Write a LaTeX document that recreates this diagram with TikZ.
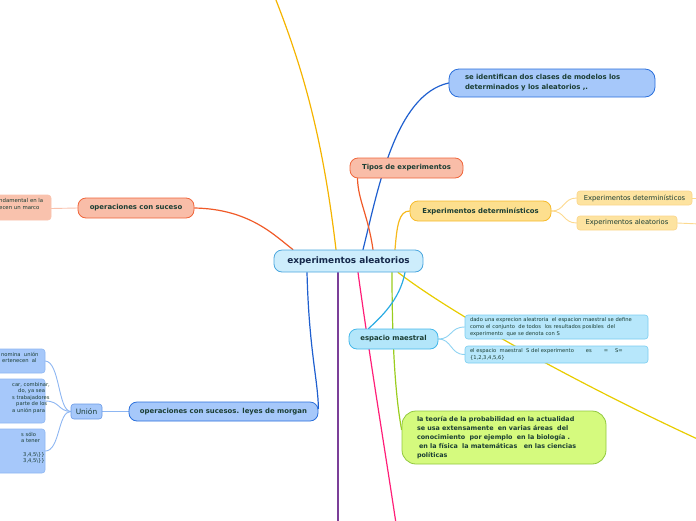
\documentclass[tikz,border=0pt]{standalone}
\usepackage{fontspec}
\setmainfont{DejaVu Sans}
\usetikzlibrary{backgrounds}
\definecolor{navytxt}{HTML}{15294B}
\definecolor{darktxt}{HTML}{1A3D33}
\definecolor{ctrfill}{HTML}{CDEDFC}
\definecolor{ctrdraw}{HTML}{4AA6DE}
\definecolor{bluefill}{HTML}{A6C8FA}
\definecolor{bluedraw}{HTML}{2A6FDB}
\definecolor{salfill}{HTML}{F9BDA8}
\definecolor{saldraw}{HTML}{F0653A}
\definecolor{yelfill}{HTML}{FDDF8E}
\definecolor{yeldraw}{HTML}{F6BA2A}
\definecolor{ylitefill}{HTML}{FDE3A0}
\definecolor{ylitedraw}{HTML}{FBD58A}
\definecolor{cyfill}{HTML}{B3E6FA}
\definecolor{cydraw}{HTML}{45B8EA}
\definecolor{cylitefill}{HTML}{B7E7FB}
\definecolor{cylitedraw}{HTML}{79CDF0}
\definecolor{grfill}{HTML}{D5FA7E}
\definecolor{grdraw}{HTML}{91C83E}
\definecolor{corange}{HTML}{F5B400}
\definecolor{cblue}{HTML}{1F5FCF}
\definecolor{cred}{HTML}{F05A28}
\definecolor{cyellow}{HTML}{F6B91C}
\definecolor{cpurple}{HTML}{7B3F98}
\definecolor{cpink}{HTML}{FF1E78}
\definecolor{cgreen}{HTML}{9ACD1E}
\definecolor{ccyan}{HTML}{29ABE2}
\definecolor{cyel2}{HTML}{E8CC00}
\definecolor{lorange}{HTML}{FCD98E}
\definecolor{lblue}{HTML}{8FD3F2}
\definecolor{lblue2}{HTML}{8DB6F2}
\definecolor{lsal}{HTML}{F9C2AD}
\begin{document}
\begin{tikzpicture}[x=1pt,y=-1pt,
  conn/.style={line width=1.2pt, line cap=round},
  subconn/.style={line width=0.9pt, line cap=round},
  pill/.style={draw, line width=0.8pt, rounded corners=8pt, inner sep=0pt, align=center},
  smallbox/.style={draw, line width=0.6pt, rounded corners=3pt, inner sep=0pt},
  boldlbl/.style={font=\fontsize{6.9}{10}\selectfont\bfseries, text=darktxt},
  tinylbl/.style={font=\fontsize{5.2}{6.6}\selectfont, text=darktxt}
]
\useasboundingbox (0,0) rectangle (696,520);
\clip (0,0) rectangle (696,520);

% free ends
\coordinate (topend) at (272,-10);
\coordinate (bot1) at (338,530);
\coordinate (bot2) at (397,530);
\coordinate (rightend) at (715,447);
\coordinate (ed1end) at (700,198);
\coordinate (ed2end) at (700,224);

% ---------- nodes ----------
\node[pill, fill=ctrfill, draw=ctrdraw, minimum width=149pt, minimum height=22pt,
      font=\fontsize{8.9}{11}\selectfont\bfseries, text=navytxt] (ctr) at (348.5,261) {experimentos aleatorios};

\node[pill, fill=bluefill, draw=bluedraw, minimum width=206pt, minimum height=28pt, rounded corners=10pt,
      boldlbl, align=left, text width=174pt, inner xsep=16pt] (tr) at (552,83)
      {se identifican dos clases de modelos los\\determinados y los aleatorios ,.};

\node[pill, fill=salfill, draw=saldraw, minimum width=113pt, minimum height=20pt, boldlbl] (tipos) at (406.5,168) {Tipos de experimentos};

\node[pill, fill=yelfill, draw=yeldraw, minimum width=141pt, minimum height=20pt, boldlbl] (expdet) at (480.5,211) {Experimentos determinísticos};

\node[smallbox, fill=ylitefill, draw=ylitedraw, minimum width=115pt, minimum height=14pt,
      font=\fontsize{6.8}{8}\selectfont, text=darktxt] (ed1) at (634.5,198) {Experimentos determinísticos};
\node[smallbox, fill=ylitefill, draw=ylitedraw, minimum width=100pt, minimum height=14pt,
      font=\fontsize{6.8}{8}\selectfont, text=darktxt] (ed2) at (627,223) {Experimentos aleatorios};

\node[pill, fill=salfill, draw=saldraw, minimum width=116pt, minimum height=20pt, boldlbl] (opsuc) at (136,208) {operaciones con suceso};

\node[smallbox, fill=lsal, draw=lsal, minimum width=91pt, minimum height=25pt] (opchild) at (5.5,207.5) {};
\node[font=\fontsize{5.4}{7.5}\selectfont, text=darktxt, align=left, anchor=north west, inner sep=0pt] (opchildt) at (-1,198) {ndamental en la\\ecen un marco};

\node[pill, fill=cyfill, draw=cydraw, minimum width=89pt, minimum height=20pt, boldlbl] (esp) at (393.5,339) {espacio maestral};

\node[smallbox, fill=cylitefill, draw=cylitedraw, minimum width=183pt, minimum height=24pt,
      tinylbl, align=left, text width=173pt, inner xsep=5pt] (em1) at (556.5,327)
      {\mbox{dado una exprecion aleatroria\ \ el espacion maestral se define}\\\mbox{como el conjunto\ \ de todos\ \ los resultados posibles\ \ del}\\experimento\ \ que se denota con S};
\node[smallbox, fill=cylitefill, draw=cylitedraw, minimum width=183pt, minimum height=17pt,
      tinylbl, align=left, text width=173pt, inner xsep=5pt] (em2) at (556.5,354.5)
      {\mbox{el espacio\ \ maestral\ \ S del experimento\hspace{12pt}es\hspace{12pt}=\hspace{7pt}S=}\\\{1,2,3,4,5,6\}};

\node[pill, fill=grfill, draw=grdraw, minimum width=204pt, minimum height=53pt, rounded corners=14pt,
      font=\fontsize{6.4}{9}\selectfont\bfseries, text=darktxt, align=left, text width=174pt, inner xsep=15pt] (teo) at (504,437.5)
      {\mbox{la teoría de la probabilidad en la actualidad}\\\mbox{se usa extensamente\ \ en varias áreas\ \ del}\\\mbox{conocimiento\ \ por ejemplo\ \ en la biología .}\\\mbox{\ en la física\ \ la matemáticas\ \ \ en las ciencias}\\políticas};

\node[pill, fill=bluefill, draw=bluedraw, minimum width=189pt, minimum height=19pt, boldlbl] (leyes) at (223.5,411.5) {operaciones con sucesos. leyes de morgan};

\node[smallbox, fill=bluefill, draw=bluedraw!70!white, minimum width=31pt, minimum height=15pt,
      font=\fontsize{7.4}{9}\selectfont, text=darktxt] (union) at (86.5,411.5) {Unión};

\node[smallbox, fill=bluefill, draw=lblue2, minimum width=105pt, minimum height=24pt] (u1) at (-7.5,361) {};
\node[tinylbl, align=left, anchor=north west, inner sep=0pt] (u1t) at (1,352) {nomina\ \ unión\\\hspace*{1pt}ertenecen\ \ al};
\node[smallbox, fill=bluefill, draw=lblue2, minimum width=105pt, minimum height=44pt] (u2) at (-7.5,401) {};
\node[tinylbl, align=left, anchor=north west, inner sep=0pt] (u2t) at (12,382)
  {car, combinar,\\\hspace*{6pt}do, ya sea\\s trabajadores\\\hspace*{4pt}parte de los\\a unión para};
\node[smallbox, fill=bluefill, draw=lblue2, minimum width=105pt, minimum height=44pt] (u3) at (-7.5,451) {};
\node[tinylbl, align=left, anchor=north west, inner sep=0pt] (u3t) at (21,432)
  {s sólo\\a tener\\\strut\\\hspace*{2pt}3,4,5\textbackslash\}\}\\\hspace*{2pt}3,4,5\textbackslash\}\}};

% ---------- connectors ----------
\begin{scope}[on background layer]
  \draw[conn, corange] ([xshift=-12.5pt]ctr.north) .. controls (322,130) and (300,60) .. (topend);
  \draw[conn, cblue] ([xshift=14.5pt]ctr.north) .. controls (378,190) and (395,95) .. (tr.west);
  \draw[conn, cred] ([xshift=24.5pt]ctr.north) .. controls (368,215) and (358,200) .. ([xshift=-49pt]tipos.south);
  \draw[conn, cyellow] ([xshift=46.5pt]ctr.north) .. controls (397,225) and (399,211) .. (expdet.west);
  \draw[conn, cred] (opsuc.east) .. controls (250,209) and (275,236) .. ([xshift=-55.5pt]ctr.north);
  \draw[conn, cblue] ([xshift=-41.5pt]ctr.south) .. controls (309,350) and (318,380) .. ([yshift=3pt]leyes.east);
  \draw[conn, cpurple] ([xshift=-10.5pt]ctr.south) -- (bot1);
  \draw[conn, cpink] ([xshift=9.5pt]ctr.south) .. controls (370,360) and (385,450) .. (bot2);
  \draw[conn, cgreen] ([xshift=43.5pt]ctr.south) .. controls (392,350) and (396,400) .. ([yshift=8pt]teo.west);
  \draw[conn, cyel2] ([xshift=49.5pt]ctr.south) .. controls (460,320) and (600,395) .. (rightend);
  \draw[conn, ccyan] ([xshift=56.5pt]ctr.south) .. controls (400,300) and (380,318) .. ([xshift=-25pt]esp.north);

  \draw[subconn, lorange] (expdet.east) .. controls (565,211) and (563,198) .. (ed1.west);
  \draw[subconn, lorange] (expdet.east) .. controls (565,211) and (563,223) .. (ed2.west);
  \draw[subconn, lorange] (ed1.east) -- (ed1end);
  \draw[subconn, lorange] (ed2.east) -- (ed2end);
  \draw[subconn, lblue] (esp.east) .. controls (452,339) and (450,327) .. (em1.west);
  \draw[subconn, lblue] (esp.east) .. controls (452,339) and (450,354.5) .. (em2.west);
  \draw[subconn, lsal] (opsuc.west) -- ([yshift=-1pt]opchild.east);
  \draw[subconn, lblue2] (leyes.west) -- (union.east);
  \draw[subconn, lblue2] (union.west) .. controls (58,411) and (60,362) .. (u1.east);
  \draw[subconn, lblue2] (union.west) .. controls (58,411) and (60,401) .. (u2.east);
  \draw[subconn, lblue2] (union.west) .. controls (58,411) and (60,451) .. (u3.east);
\end{scope}
\end{tikzpicture}
\end{document}
